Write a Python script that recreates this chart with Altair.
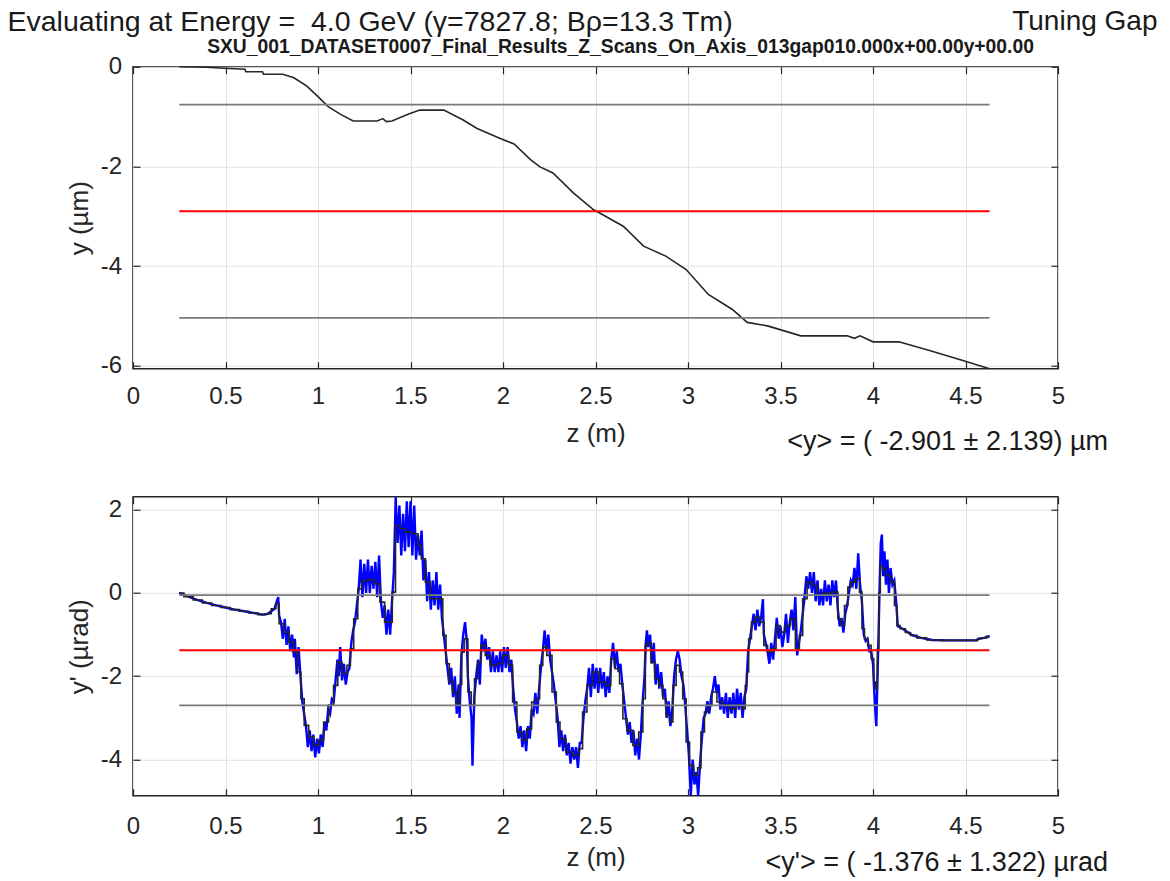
import altair as alt
import pandas as pd

FONT = "Liberation Sans"
AX = "#262626"
GRID = "#e2e2e2"

# ---------------- data ----------------
x_ticks = [0, 0.5, 1, 1.5, 2, 2.5, 3, 3.5, 4, 4.5, 5]
y_ticks_top = [-6, -4, -2, 0]
y_ticks_bot = [-4, -2, 0, 2]

# top panel: y(z) in um
z_top = [0.25, 0.40, 0.49, 0.605, 0.61, 0.70, 0.705, 0.81, 0.87, 0.94, 1.00, 1.055,
         1.12, 1.19, 1.32, 1.35, 1.37, 1.40, 1.49, 1.55, 1.68, 1.785, 1.86, 1.985,
         2.06, 2.15, 2.20, 2.27, 2.38, 2.49, 2.52, 2.65, 2.76, 2.88, 2.99, 3.11,
         3.24, 3.32, 3.43, 3.61, 3.86, 3.90, 3.93, 4.00, 4.14, 4.31, 4.49, 4.63]
y_top = [0.0, -0.01, -0.03, -0.05, -0.10, -0.10, -0.15, -0.15, -0.22, -0.39, -0.60, -0.80,
         -0.95, -1.09, -1.09, -1.04, -1.10, -1.09, -0.95, -0.87, -0.87, -1.07, -1.24, -1.44,
         -1.55, -1.87, -2.01, -2.13, -2.53, -2.87, -2.93, -3.20, -3.60, -3.80, -4.07, -4.57,
         -4.87, -5.13, -5.20, -5.40, -5.40, -5.45, -5.40, -5.52, -5.52, -5.70, -5.90, -6.06]

# bottom panel: smoothed y'(z) (black)
z_bk = [0.25, 0.30, 0.35, 0.40, 0.45, 0.50, 0.55, 0.60, 0.65, 0.70, 0.73, 0.765, 0.78, 0.80,
        0.83, 0.855, 0.88, 0.90,
        0.915, 0.936, 0.963, 0.99, 1.017, 1.044, 1.07, 1.098, 1.116, 1.143, 1.17, 1.18, 1.206,
        1.224, 1.25, 1.29, 1.32, 1.35, 1.37, 1.395, 1.408, 1.43, 1.458, 1.485, 1.53, 1.55,
        1.566, 1.594, 1.62, 1.65, 1.665, 1.684, 1.70, 1.72, 1.738, 1.756, 1.774, 1.78, 1.80,
        1.82, 1.837, 1.855, 1.873, 1.89, 1.918, 1.945, 1.98, 2.017, 2.044, 2.06, 2.09, 2.116,
        2.14, 2.17, 2.19, 2.206, 2.224, 2.25, 2.28, 2.296, 2.32, 2.36, 2.396, 2.42, 2.44,
        2.468, 2.50, 2.54, 2.575, 2.59, 2.62, 2.64, 2.656, 2.684, 2.72, 2.747, 2.765, 2.774,
        2.79, 2.81, 2.83, 2.855, 2.873, 2.89, 2.91, 2.927, 2.945, 2.963, 2.98, 3.0, 3.017,
        3.044, 3.06, 3.08, 3.098, 3.116, 3.143, 3.17, 3.206, 3.24, 3.278, 3.305, 3.314, 3.32,
        3.336, 3.35, 3.377, 3.40, 3.42, 3.44, 3.467, 3.485, 3.51, 3.54, 3.567, 3.594, 3.61,
        3.63, 3.657, 3.684, 3.71, 3.75, 3.80, 3.82, 3.837, 3.855, 3.873, 3.89, 3.918, 3.936,
        3.945, 3.963, 3.98, 4.0, 4.008, 4.02, 4.028, 4.035, 4.044, 4.06, 4.08, 4.107, 4.125,
        4.134, 4.16, 4.19, 4.215, 4.26, 4.32, 4.40, 4.50, 4.56, 4.57, 4.60, 4.63]
yp_bk = [0.0, -0.09, -0.17, -0.24, -0.30, -0.35, -0.40, -0.44, -0.48, -0.52, -0.50, -0.38,
         -0.26, -0.74, -0.94, -1.18,
         -1.42, -1.90, -2.54, -3.18, -3.46, -3.66, -3.54, -3.10, -2.69, -2.22, -1.66, -1.94,
         -1.74, -1.34, -0.62, 0.10, 0.30, 0.32, 0.22, -0.22, -0.70, -0.70, 0.02, 1.62, 1.54,
         1.46, 1.42, 1.14, 0.82, 0.26, -0.14, -0.14, -0.14, -1.02, -1.70, -2.14, -2.38, -2.66,
         -2.20, -1.42, -1.10, -2.38, -2.70, -2.06, -1.66, -1.26, -1.50, -1.74, -1.70, -1.50,
         -1.74, -2.62, -3.34, -3.54, -3.26, -2.62, -2.54, -1.74, -1.30, -1.50, -2.38, -3.10,
         -3.50, -3.82, -3.90, -3.74, -2.86, -2.22, -1.90, -2.14, -2.22, -1.58, -1.82, -2.18,
         -3.02, -3.30, -3.66, -3.34, -2.54, -1.26, -1.20, -1.66, -2.06, -2.22, -2.54, -2.94,
         -3.10, -2.22, -1.74, -1.90, -2.54, -3.58, -4.14, -4.38, -4.20, -3.34, -2.86, -2.70,
         -2.38, -2.62, -2.70, -2.78, -2.70, -2.78, -2.22, -1.90, -1.10, -0.70, -0.58, -0.70,
         -1.26, -1.42, -1.34, -0.78, -0.94, -0.78, -0.62, -1.34, -1.02, -0.14, 0.26, 0.18,
         -0.06, 0.00, 0.02, -0.62, -0.78, -0.30, 0.14, 0.26, 0.34, 0.02, -0.86, -1.10, -1.26,
         -1.58, -2.14, -2.30, -1.34, 0.02, 0.66, 0.58, 0.42, 0.26, -0.30, -0.78, -0.86, -0.95,
         -1.02, -1.08, -1.13, -1.14, -1.14, -1.14, -1.10, -1.08, -1.04]

# bottom panel: raw y'(z) (blue)
z_bl = [0.25, 0.30, 0.35, 0.40, 0.45, 0.50, 0.55, 0.60, 0.65, 0.70, 0.73, 0.765,
        0.77, 0.785, 0.79, 0.80, 0.81, 0.82, 0.83, 0.84, 0.85, 0.86, 0.87, 0.875,
        0.885, 0.895, 0.905, 0.915, 0.925, 0.935, 0.945, 0.955, 0.965, 0.975, 0.985, 0.995,
        1.005, 1.015, 1.025, 1.035, 1.045, 1.055, 1.065, 1.075, 1.085, 1.095, 1.105, 1.112,
        1.12, 1.13, 1.14, 1.15, 1.16, 1.17, 1.18, 1.19, 1.20, 1.21, 1.22, 1.23, 1.24, 1.25,
        1.26, 1.27, 1.28, 1.29, 1.30, 1.31, 1.32, 1.33, 1.34, 1.35, 1.36, 1.37, 1.38, 1.39,
        1.40, 1.41, 1.42, 1.43, 1.44, 1.45, 1.46, 1.47, 1.48, 1.49, 1.50, 1.51, 1.52, 1.53,
        1.54, 1.55, 1.56, 1.57, 1.58, 1.59, 1.60, 1.61, 1.62, 1.63, 1.64, 1.65, 1.66, 1.67,
        1.68, 1.69, 1.70, 1.71, 1.72, 1.73, 1.74, 1.75, 1.76, 1.765, 1.775, 1.785, 1.795,
        1.805, 1.81, 1.82, 1.83, 1.835, 1.845, 1.855, 1.865, 1.875, 1.885, 1.895, 1.905,
        1.915, 1.925, 1.935, 1.945, 1.955, 1.965, 1.975, 1.985, 1.995, 2.005, 2.015, 2.025,
        2.035, 2.045, 2.055, 2.065, 2.075, 2.085, 2.095, 2.105, 2.115, 2.125, 2.135, 2.145,
        2.155, 2.165, 2.175, 2.185, 2.195, 2.205, 2.215, 2.225, 2.235, 2.245, 2.255, 2.265,
        2.275, 2.285, 2.295, 2.305, 2.315, 2.325, 2.335, 2.345, 2.355, 2.365, 2.375, 2.385,
        2.395, 2.405, 2.415, 2.425, 2.435, 2.445, 2.455, 2.465, 2.475, 2.485, 2.495, 2.505,
        2.515, 2.525, 2.535, 2.545, 2.555, 2.565, 2.575, 2.585, 2.595, 2.605, 2.615, 2.625,
        2.635, 2.645, 2.655, 2.665, 2.675, 2.685, 2.695, 2.705, 2.715, 2.725, 2.735, 2.745,
        2.755, 2.765, 2.772, 2.778, 2.785, 2.795, 2.805, 2.815, 2.825, 2.835, 2.845, 2.855,
        2.865, 2.875, 2.885, 2.895, 2.905, 2.915, 2.925, 2.935, 2.945, 2.955, 2.965, 2.975,
        2.985, 2.995, 3.005, 3.015, 3.025, 3.035, 3.045, 3.055, 3.065, 3.075, 3.085, 3.095,
        3.105, 3.115, 3.125, 3.135, 3.145, 3.155, 3.165, 3.175, 3.185, 3.195, 3.205, 3.215,
        3.225, 3.235, 3.245, 3.255, 3.265, 3.275, 3.285, 3.295, 3.305, 3.315, 3.325, 3.335,
        3.345, 3.355, 3.365, 3.375, 3.385, 3.395, 3.405, 3.41, 3.42, 3.43, 3.44, 3.45, 3.46,
        3.47, 3.48, 3.49, 3.50, 3.51, 3.52, 3.53, 3.54, 3.55, 3.56, 3.57, 3.58, 3.59, 3.60,
        3.61, 3.62, 3.63, 3.64, 3.65, 3.66, 3.67, 3.68, 3.69, 3.70, 3.71, 3.72, 3.73, 3.74,
        3.75, 3.76, 3.77, 3.78, 3.79, 3.80, 3.81, 3.82, 3.83, 3.84, 3.85, 3.86, 3.87, 3.88,
        3.89, 3.90, 3.91, 3.92, 3.93, 3.94, 3.95, 3.96, 3.97, 3.98, 3.99, 4.00, 4.005, 4.012,
        4.018, 4.022, 4.03, 4.036, 4.042, 4.048, 4.055, 4.062, 4.07, 4.078, 4.086, 4.095,
        4.105, 4.115, 4.125, 4.134, 4.16, 4.19, 4.215, 4.26, 4.32, 4.40, 4.50, 4.56, 4.57,
        4.60, 4.63]
yp_bl = [0.0, -0.09, -0.17, -0.24, -0.30, -0.35, -0.40, -0.44, -0.48, -0.52, -0.50, -0.38,
         -0.30, -0.10, -0.55, -0.70, -1.10, -0.62, -1.25, -0.80, -1.40, -1.00,
         -1.55, -1.10, -1.95, -1.30, -2.0, -2.6, -2.9, -3.2, -3.7, -3.3, -3.8, -3.4, -3.95,
         -3.5, -3.85, -3.4, -3.7, -3.1, -3.3, -2.8, -2.9, -2.55, -2.6, -2.1, -1.6, -2.0, -1.3,
         -2.1, -1.7, -2.2, -1.9, -1.8, -1.2, -0.9, -0.7, -0.3, 0.1, 0.8, -0.1, 0.7, 0.0, 0.8,
         0.0, 0.65, 0.1, 0.75, -0.1, 0.9, -0.2, -0.6, -0.3, -1.0, -0.4, -1.0, -0.2, 0.5, 2.3,
         1.2, 2.1, 0.9, 1.9, 1.0, 2.2, 1.1, 2.2, 0.9, 2.1, 0.8, 1.4, 0.9, 1.5, 0.3, 0.8, -0.2,
         0.5, -0.4, 0.3, -0.3, 0.5, -0.4, 0.2, -0.6, -1.0, -1.4, -1.8, -2.2, -1.8, -2.5, -2.0,
         -2.9, -2.2, -3.0, -1.5, -1.0, -0.7, -1.2, -2.0, -2.6, -3.0, -4.15, -2.5, -2.0, -1.6,
         -2.2, -1.0, -1.4, -1.1, -1.6, -1.3, -1.9, -1.4, -1.9, -1.5, -1.9, -1.4, -1.9, -1.3,
         -1.8, -1.3, -1.9, -1.6, -2.3, -2.8, -3.1, -3.5, -3.2, -3.7, -3.3, -3.8, -3.2, -3.5,
         -2.8, -2.9, -2.4, -2.9, -2.3, -1.8, -1.4, -0.9, -1.4, -1.0, -1.6, -1.9, -2.2, -2.6,
         -3.0, -3.7, -3.3, -3.8, -3.4, -3.9, -3.6, -4.1, -3.7, -4.0, -3.7, -4.2, -3.6, -3.6,
         -3.0, -2.6, -2.3, -1.8, -2.5, -1.7, -2.3, -1.8, -2.4, -1.8, -2.3, -1.9, -2.5, -2.0,
         -2.4, -1.6, -1.2, -1.8, -1.4, -1.9, -1.7, -2.2, -2.6, -3.0, -3.4, -3.1, -3.6, -3.3,
         -3.9, -3.5, -4.0, -3.4, -2.6, -2.0, -1.2, -0.9, -1.3, -1.0, -1.7, -1.2, -2.2, -1.7,
         -2.3, -1.9, -2.5, -2.3, -3.0, -2.6, -3.2, -2.8, -2.0, -1.6, -1.4, -1.6, -2.0, -2.2,
         -2.7, -3.3, -3.9, -4.87, -4.0, -4.6, -4.3, -4.87, -4.1, -3.5, -3.0, -2.9, -2.6, -2.9,
         -2.5, -2.3, -2.0, -2.4, -2.2, -2.8, -2.5, -2.9, -2.4, -3.0, -2.5, -2.9, -2.4, -3.0,
         -2.3, -2.8, -2.4, -3.0, -2.5, -2.3, -1.4, -1.1, -0.8, -0.5, -0.9, -0.4, -0.8, -0.6,
         -0.15, -1.0, -1.2, -1.4, -1.7, -1.2, -1.6, -1.1, -0.6, -1.1, -0.8, -1.3, -1.0, -0.5,
         -1.2, -0.7, -0.4, -0.9, -0.1, -1.5, -1.2, -0.9, -0.5, -0.1, 0.4, 0.1, 0.5, 0.0, 0.5,
         -0.2, 0.3, -0.3, 0.1, -0.3, 0.3, -0.2, 0.2, -0.3, 0.3, -0.1, 0.3, -0.4, -0.8, -0.6,
         -0.95, -0.5, -0.3, 0.0, 0.3, 0.2, 0.6, 0.1, 0.95, 0.2, -0.2, -1.0, -1.15, -1.1, -1.4,
         -1.4, -1.7, -2.2, -2.8, -3.2, -2.4, -1.0, 0.2, 1.2, 1.4, 0.4, 1.0, 0.2, 0.8, 0.0, 0.6,
         0.2, 0.3, -0.2, -0.8, -0.86, -0.95, -1.02, -1.08, -1.13, -1.14, -1.14, -1.14, -1.10,
         -1.08, -1.04]

Y_MEAN, Y_STD = -2.901, 2.139
YP_MEAN, YP_STD = -1.376, 1.322
Z_START, Z_END = 0.25, 4.63

TITLE = "Evaluating at Energy = \u00a04.0 GeV (\u03b3=7827.8; B\u03c1=13.3 Tm)"
RIGHT_TITLE = "Tuning Gap"
SUBTITLE = "SXU_001_DATASET0007_Final_Results_Z_Scans_On_Axis_013gap010.000x+00.00y+00.00"
ANN_TOP = "<y> = ( -2.901 \u00b1 2.139) \u00b5m"
ANN_BOT = "<y'> = ( -1.376 \u00b1 1.322) \u00b5rad"

W = 925
H1 = 302
H2 = 299
XDOM = [0, 5]
YDOM_TOP = [-6.06, 0.0]
YDOM_BOT = [-4.87, 2.31]

# ---------------- helpers ----------------
def x_axis(label_pad, title_y):
    return alt.Axis(values=x_ticks, labelExpr="datum.value + ''", labelFlush=False,
                    labelOverlap=False, grid=True, gridColor=GRID, gridWidth=1,
                    domain=False, ticks=True, tickSize=7, offset=-7, tickColor=AX,
                    tickWidth=1.2, labelFont=FONT, labelFontSize=24, labelColor=AX,
                    labelPadding=label_pad, title="z (m)", titleFont=FONT,
                    titleFontSize=26, titleFontWeight="normal", titleColor=AX,
                    titleY=title_y, titleBaseline="middle")


def y_axis(vals, title):
    return alt.Axis(values=vals, labelExpr="datum.value + ''", labelFlush=False,
                    labelOverlap=False, grid=True, gridColor=GRID, gridWidth=1,
                    domain=False, ticks=True, tickSize=7, offset=-7, tickColor=AX,
                    tickWidth=1.2, labelFont=FONT, labelFontSize=24, labelColor=AX,
                    labelPadding=11.5, title=title, titleFont=FONT, titleFontSize=26,
                    titleFontWeight="normal", titleColor=AX, titleX=-60.5,
                    titleBaseline="middle")


def text_layer(s, x, y, align, size, weight="normal"):
    return alt.Chart(pd.DataFrame({"t": [s]})).mark_text(
        align=align, baseline="middle", font=FONT, fontSize=size, fontWeight=weight,
        color="#1a1a1a").encode(text="t:N", x=alt.value(x), y=alt.value(y))


def panel(df_black, df_blue, ycol, ydom, yvals, ytitle, mean, std, label_pad, title_y,
          extra_texts, height, black_interp):
    xs = alt.Scale(domain=XDOM, nice=False, zero=False)
    ys = alt.Scale(domain=ydom, nice=False, zero=False)
    layers = []
    first_x = alt.X("z:Q", scale=xs, axis=x_axis(label_pad, title_y))
    first_y = alt.Y(f"{ycol}:Q", scale=ys, axis=y_axis(yvals, ytitle))
    if df_blue is not None:
        layers.append(alt.Chart(df_blue).mark_line(color="#0000ff", strokeWidth=2.4).encode(
            x=first_x, y=first_y, order="i:Q"))
        black_x = alt.X("z:Q", scale=xs)
        black_y = alt.Y(f"{ycol}:Q", scale=ys)
    else:
        black_x, black_y = first_x, first_y
    layers.append(alt.Chart(df_black).mark_line(
        color="#262626", strokeWidth=1.6, interpolate=black_interp).encode(
        x=black_x, y=black_y, order="i:Q"))
    stats = pd.DataFrame({"z0": [Z_START] * 3, "z1": [Z_END] * 3,
                          ycol: [mean + std, mean - std, mean],
                          "kind": ["std", "std", "mean"]})
    layers.append(alt.Chart(stats).transform_filter("datum.kind == 'std'").mark_rule(
        color="#7a7a7a", strokeWidth=1.8).encode(
        x=alt.X("z0:Q", scale=xs), x2="z1:Q", y=alt.Y(f"{ycol}:Q", scale=ys)))
    layers.append(alt.Chart(stats).transform_filter("datum.kind == 'mean'").mark_rule(
        color="#ff0000", strokeWidth=2).encode(
        x=alt.X("z0:Q", scale=xs), x2="z1:Q", y=alt.Y(f"{ycol}:Q", scale=ys)))
    layers.extend(extra_texts)
    main = alt.layer(*layers)

    frame = alt.Chart(df_black).mark_point(opacity=0).encode(
        x=alt.X("z:Q", scale=alt.Scale(domain=XDOM, nice=False, zero=False),
                axis=alt.Axis(orient="top", values=x_ticks, labels=False, domain=False,
                              grid=False, ticks=True, tickSize=7, offset=-7,
                              tickColor=AX, tickWidth=1.2, title=None)),
        y=alt.Y(f"{ycol}:Q", scale=alt.Scale(domain=ydom, nice=False, zero=False),
                axis=alt.Axis(orient="right", values=yvals, labels=False, domain=False,
                              grid=False, ticks=True, tickSize=7, offset=-7,
                              tickColor=AX, tickWidth=1.2, title=None)))
    return alt.layer(main, frame).resolve_scale(x="independent", y="independent") \
        .properties(width=W, height=height)


df_top = pd.DataFrame({"z": z_top, "y": y_top, "i": range(len(z_top))})
df_bk = pd.DataFrame({"z": z_bk, "yp": yp_bk, "i": range(len(z_bk))})
df_bl = pd.DataFrame({"z": z_bl, "yp": yp_bl, "i": range(len(z_bl))})

top_texts = [
    text_layer(TITLE, -125.5, -45, "left", 28.5),
    text_layer(RIGHT_TITLE, 1024.5, -45, "right", 28),
    text_layer(SUBTITLE, 487.5, -20, "center", 19.3, "bold"),
    text_layer(ANN_TOP, W + 50, H1 + 73, "right", 27),
]
bot_texts = [text_layer(ANN_BOT, W + 50, H2 + 67, "right", 27)]

top = panel(df_top, None, "y", YDOM_TOP, y_ticks_top, "y (\u00b5m)", Y_MEAN, Y_STD,
            16, 72, top_texts, H1, "linear")
bot = panel(df_bk, df_bl, "yp", YDOM_BOT, y_ticks_bot, "y' (\u00b5rad)", YP_MEAN, YP_STD,
            19, 69, bot_texts, H2, "step")

chart = alt.vconcat(top, bot, spacing=35).properties(
    padding={"top": -1.25, "left": -2, "right": 0, "bottom": 0}, background="white"
).configure_view(stroke=AX, strokeWidth=1.5)

chart.save("out.html", embed_options={"renderer": "svg", "actions": False})
